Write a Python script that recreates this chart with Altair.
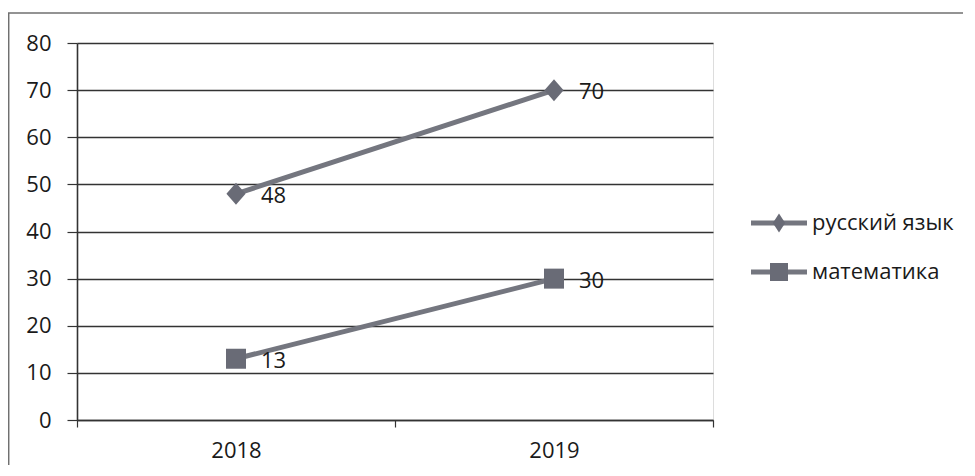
import altair as alt
import pandas as pd

# ---- data ----
years = ["2018", "2019"]
series_names = ["русский язык", "математика"]
russian = [48, 70]
maths = [13, 30]
y_ticks = [0, 10, 20, 30, 40, 50, 60, 70, 80]

rows = []
for s, vals in zip(series_names, [russian, maths]):
    for yr, v in zip(years, vals):
        rows.append({"year": yr, "value": v, "series": s})
df = pd.DataFrame(rows)

# ---- style ----
FONT = "Open Sans"
FS = 22
LINE = "#74767f"
MARK = "#696b76"
TEXT = "#1a1a1a"
GRID = "#333333"
BORDER = "#707070"

DIAMOND = "M0,-1L0.87,0L0,1L-0.87,0Z"
LEG_DIAMOND = "M0,-1L0.65,0L0,1L-0.65,0Z"

W, H = 636, 377

x_enc = alt.X(
    "year:N",
    sort=years,
    scale=alt.Scale(type="band", paddingInner=0, paddingOuter=0, domain=years),
    axis=alt.Axis(
        title=None, labelAngle=0, tickBand="extent", tickSize=7, labelPadding=13,
        domainColor=GRID, domainWidth=1.6, tickColor=GRID, tickWidth=1.2,
        labelFont=FONT, labelFontSize=FS, labelColor=TEXT, grid=False,
    ),
)
y_enc = alt.Y(
    "value:Q",
    scale=alt.Scale(domain=[0, 80], nice=False, zero=True),
    axis=alt.Axis(
        title=None, values=y_ticks, tickSize=10, labelPadding=16,
        grid=True, gridColor=GRID, gridWidth=1.6,
        domainColor=GRID, domainWidth=1.6, tickColor=GRID, tickWidth=1.2,
        labelFont=FONT, labelFontSize=FS, labelColor=TEXT,
    ),
)

base = alt.Chart(df)

border = alt.Chart(pd.DataFrame({"a": [0]})).mark_rect(
    fill=None, stroke=BORDER, strokeWidth=1.5
).encode(
    x=alt.value(-68.3), x2=alt.value(W + 300),
    y=alt.value(-30), y2=alt.value(H + 100),
)

lines = base.mark_line(color=LINE, strokeWidth=5).encode(
    x=x_enc, y=y_enc, detail="series:N"
)

points = base.mark_point(filled=True, opacity=1, color=MARK).encode(
    x=x_enc, y=y_enc,
    shape=alt.Shape("series:N", scale=alt.Scale(domain=series_names, range=[DIAMOND, "square"]), legend=None),
    size=alt.Size("series:N", scale=alt.Scale(domain=series_names, range=[484, 400]), legend=None),
)

labels = base.mark_text(
    align="left", baseline="middle", dx=25, dy=2, font=FONT, fontSize=FS, color=TEXT
).encode(x=x_enc, y=y_enc, text="value:Q")

# ---- manual legend (Excel-style: line through marker) ----
legend_layers = []
legend_y = [180, 229]
legend_shapes = [LEG_DIAMOND, "square"]
legend_sizes = [361, 324]
for name, ly, shp, sz in zip(series_names, legend_y, legend_shapes, legend_sizes):
    ldf = pd.DataFrame({"series": [name]})
    lc = alt.Chart(ldf)
    legend_layers.append(
        lc.mark_rule(color=LINE, strokeWidth=5).encode(
            x=alt.value(674), x2=alt.value(730), y=alt.value(ly)
        )
    )
    legend_layers.append(
        lc.mark_point(filled=True, opacity=1, color=MARK, shape=shp, size=sz).encode(
            x=alt.value(702), y=alt.value(ly)
        )
    )
    legend_layers.append(
        lc.mark_text(align="left", baseline="middle", font=FONT, fontSize=FS, color=TEXT).encode(
            x=alt.value(735), y=alt.value(ly), text="series:N"
        )
    )

chart = alt.layer(border, lines, points, labels, *legend_layers).properties(
    width=W,
    height=H,
    autosize=alt.AutoSizeParams(type="none"),
    padding={"left": 69, "top": 35, "right": 250, "bottom": 45},
).configure_view(stroke=None).configure(background="white")

chart.save("out.html", embed_options={"renderer": "svg", "actions": False})
